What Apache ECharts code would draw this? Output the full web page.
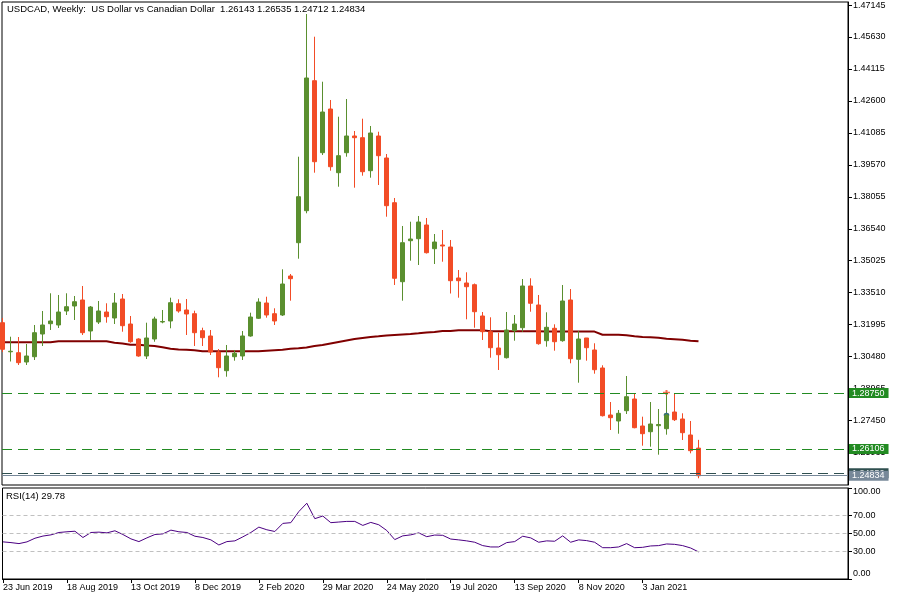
<!DOCTYPE html>
<html><head><meta charset="utf-8">
<script src="https://cdn.jsdelivr.net/npm/echarts@6/dist/echarts.min.js"></script>
<style>html,body{margin:0;padding:0;background:#fff}#c{width:900px;height:600px}</style>
</head><body><div id="c"></div><script>
// ---- DATA (weekly USDCAD, first candle = week of 23 Jun 2019) ----
const opens = [1.32088,1.30709,1.30666,1.30225,1.30476,1.31552,1.32041,1.31979,1.32643,1.32880,
1.33164,1.31695,1.32121,1.32595,1.32311,1.33211,1.32026,1.31315,1.30510,1.31315,
1.32121,1.32169,1.32989,1.32690,1.32515,1.31709,1.31458,1.30699,1.29813,1.30476,
1.30510,1.31458,1.32297,1.33022,1.32515,1.32453,1.34302,1.35880,1.37397,1.43559,
1.40146,1.42217,1.39198,1.40146,1.40938,1.40857,1.39293,1.40938,1.39895,1.37776,
1.34031,1.35975,1.36070,1.36719,1.35596,1.35771,1.35676,1.34207,1.33970,1.33889,
1.32406,1.31661,1.30889,1.30429,1.31709,1.31851,1.33828,1.32927,1.31235,1.31823,
1.31235,1.33164,1.30353,1.31363,1.30794,1.29941,1.27713,1.27429,1.27917,1.28471,
1.27192,1.26921,1.27206,1.27064,1.27855,1.27524,1.26765,1.26143];
const highs = [1.32311,1.31424,1.31410,1.31078,1.31979,1.32643,1.33482,1.33401,1.33482,1.33354,
1.33828,1.32880,1.33117,1.33008,1.33496,1.33448,1.32406,1.31349,1.32088,1.32372,
1.32690,1.33273,1.33197,1.33211,1.32657,1.31851,1.31742,1.30841,1.31031,1.30794,
1.31695,1.32562,1.33245,1.33320,1.32771,1.34619,1.34396,1.39956,1.46720,1.45644,
1.43511,1.42644,1.41852,1.42691,1.41175,1.41758,1.41412,1.41141,1.40084,1.37999,
1.36672,1.36875,1.37146,1.37051,1.36292,1.36482,1.36008,1.34586,1.34477,1.33946,
1.32595,1.32344,1.31614,1.32595,1.32453,1.34159,1.34193,1.33401,1.32581,1.32012,
1.33875,1.33685,1.31695,1.31363,1.31112,1.30069,1.28329,1.27950,1.29562,1.28742,
1.27633,1.28329,1.27997,1.28789,1.28742,1.27793,1.27429,1.26535];
const lows = [1.30699,1.30249,1.30083,1.30083,1.30320,1.30984,1.31742,1.31837,1.32453,1.32216,
1.31505,1.31268,1.32026,1.32088,1.32026,1.31661,1.31140,1.30476,1.30367,1.31187,
1.32060,1.31823,1.32562,1.31505,1.30984,1.30984,1.30557,1.29500,1.29528,1.30287,
1.30320,1.31424,1.32263,1.32325,1.31979,1.32406,1.33131,1.35122,1.37274,1.39198,
1.40037,1.39293,1.38534,1.39956,1.38487,1.39056,1.38961,1.38615,1.37112,1.33875,
1.33131,1.35027,1.34823,1.35368,1.34870,1.34979,1.33472,1.33273,1.32249,1.31851,
1.31268,1.30429,1.29846,1.30391,1.31235,1.31661,1.32609,1.31045,1.30950,1.30761,
1.31187,1.30164,1.29244,1.30287,1.29671,1.27642,1.27002,1.26827,1.27760,1.27083,
1.26258,1.26211,1.25832,1.26780,1.27429,1.26528,1.25897,1.24712];
const closes = [1.30827,1.30733,1.30192,1.30510,1.31614,1.31979,1.32169,1.32595,1.32846,1.33083,
1.31614,1.32832,1.32643,1.32372,1.33022,1.31946,1.31187,1.30510,1.31363,1.32263,
1.32145,1.33036,1.32643,1.32500,1.31614,1.31377,1.30699,1.29955,1.30510,1.30638,
1.31458,1.32358,1.33069,1.32453,1.32169,1.33922,1.34174,1.38060,1.43687,1.39719,
1.42075,1.39482,1.40004,1.40938,1.40857,1.39245,1.41080,1.40004,1.37634,1.34193,
1.35880,1.36055,1.36861,1.35406,1.35913,1.35724,1.34079,1.34079,1.33794,1.32609,
1.31661,1.30903,1.30571,1.31742,1.32026,1.33828,1.33008,1.31093,1.31870,1.31187,
1.33117,1.30382,1.31315,1.30903,1.29860,1.27680,1.27585,1.27793,1.28580,1.27111,
1.26827,1.27286,1.27263,1.27775,1.27490,1.26874,1.26021,1.24834];
const maValues = [1.31159,1.31159,1.31159,1.31159,1.31159,1.31159,1.31159,1.31206,1.31206,1.31206,
1.31206,1.31206,1.31206,1.31206,1.31140,1.31102,1.31045,1.31045,1.31007,1.30984,
1.30922,1.30856,1.30818,1.30808,1.30780,1.30732,1.30732,1.30732,1.30732,1.30732,
1.30732,1.30732,1.30732,1.30756,1.30780,1.30804,1.30851,1.30875,1.30912,1.30984,
1.31031,1.31102,1.31173,1.31244,1.31315,1.31363,1.31410,1.31443,1.31481,1.31505,
1.31529,1.31552,1.31586,1.31624,1.31647,1.31695,1.31695,1.31728,1.31728,1.31728,
1.31728,1.31680,1.31680,1.31680,1.31680,1.31680,1.31680,1.31680,1.31666,1.31666,
1.31666,1.31666,1.31666,1.31666,1.31666,1.31519,1.31519,1.31519,1.31496,1.31448,
1.31410,1.31396,1.31372,1.31325,1.31301,1.31277,1.31230,1.31206];
const rsiValues = [40.8,40.0,38.9,40.8,44.8,47.2,48.5,51.1,51.9,52.5,
45.6,51.1,51.5,50.7,53.0,48.9,44.1,41.1,45.2,48.9,
49.6,53.7,51.9,51.1,47.0,45.6,43.0,37.4,41.1,41.9,
46.3,51.1,57.0,54.1,52.2,61.1,61.9,74.1,83.3,66.3,
69.2,61.9,62.6,63.3,63.3,58.9,62.2,59.6,53.3,43.3,
47.4,48.5,50.7,46.5,48.3,48.0,43.9,43.0,41.9,40.4,
36.7,35.2,35.2,40.0,41.1,47.0,45.2,40.4,41.9,41.5,
47.4,40.4,43.0,42.2,40.4,34.4,34.4,35.2,38.9,34.4,
34.8,36.3,36.7,38.5,38.1,36.7,34.1,29.78];
const priceTicks = [1.25935,1.27450,1.28965,1.30480,1.31995,1.33510,1.35025,1.36540,1.38055,1.39570,1.41085,1.42600,1.44115,1.45630,1.47145];
const rsiTicks = [0,30,50,70,100];
const rsiLevels = [30,50,70];
const dateTickIndex = [0,8,16,24,32,40,48,56,64,72,80];
const dateTickLabels = ['23 Jun 2019','18 Aug 2019','13 Oct 2019','8 Dec 2019','2 Feb 2020','29 Mar 2020','24 May 2020','19 Jul 2020','13 Sep 2020','8 Nov 2020','3 Jan 2021'];
const levelLines = [1.28750, 1.26106];
const askLevel = 1.24950;
const bidLevel = 1.24834;
const tradeMarkIndex = [83, 83];
const tradeMarkPrice = [1.28780, 1.27775];
const titleText = 'USDCAD, Weekly:  US Dollar vs Canadian Dollar  1.26143 1.26535 1.24712 1.24834';
const rsiTitle = 'RSI(14) 29.78';

// ---- CHART ----
const FONT = '"Liberation Sans", Arial, sans-serif';
const GREEN = '#5a8f2f', RED = '#f24c26';
const chart = echarts.init(document.getElementById('c'), null, {renderer: 'canvas'});
const candles = opens.map((o, i) => [i, o, closes[i], lows[i], highs[i]]);
const maData = maValues.map((v, i) => [i, v]);
const rsiData = rsiValues.map((v, i) => [i, v]);
const xMin = -0.0625, xMax = 105.6875;
const levelLabel = (bg) => ({show: true, position: 'end', distance: 1, formatter: p => Number(p.value).toFixed(5),
  backgroundColor: bg, color: '#fff', fontFamily: FONT, fontSize: 9, lineHeight: 9, padding: [1, 4, 0, 3]});

chart.setOption({
  animation: false,
  backgroundColor: '#fff',
  textStyle: {fontFamily: FONT},
  graphic: [
    {type: 'text', left: 7, top: 4, silent: true, style: {text: titleText, fontSize: 9.5, fontFamily: FONT, fill: '#000'}},
    {type: 'text', left: 6, top: 491, silent: true, style: {text: rsiTitle, fontSize: 9.5, fontFamily: FONT, fill: '#000'}}
  ],
  grid: [
    {left: 2, top: 2, width: 846, height: 483, show: true, borderColor: '#000', borderWidth: 1, backgroundColor: 'transparent'},
    {left: 2, top: 488, width: 846, height: 91, show: true, borderColor: '#000', borderWidth: 1, backgroundColor: 'transparent'}
  ],
  xAxis: [
    {type: 'value', gridIndex: 0, min: xMin, max: xMax, show: false, splitLine: {show: false},
      axisLine: {onZero: false}},
    {type: 'value', gridIndex: 1, min: xMin, max: xMax,
      axisLine: {show: true, onZero: false, lineStyle: {color: '#000'}},
      axisTick: {show: true, customValues: dateTickIndex, length: 4, lineStyle: {color: '#000'}},
      axisLabel: {show: true, customValues: dateTickIndex, align: 'left', margin: 4, color: '#000', fontSize: 9, fontFamily: FONT,
        formatter: v => dateTickLabels[dateTickIndex.indexOf(Math.round(v))] || ''},
      splitLine: {show: false}}
  ],
  yAxis: [
    {type: 'value', gridIndex: 0, position: 'right', min: 1.24395, max: 1.47289,
      axisLine: {show: true, onZero: false, lineStyle: {color: '#000'}},
      axisTick: {show: true, customValues: priceTicks, length: 4, lineStyle: {color: '#000'}},
      axisLabel: {show: true, customValues: priceTicks, margin: 5, color: '#000', fontSize: 9, fontFamily: FONT, align: 'left',
        formatter: v => v.toFixed(5)},
      splitLine: {show: false}},
    {type: 'value', gridIndex: 1, position: 'right', min: 0, max: 100,
      axisLine: {show: true, onZero: false, lineStyle: {color: '#000'}},
      axisTick: {show: true, customValues: rsiTicks, length: 4, lineStyle: {color: '#000'}},
      axisLabel: {show: true, customValues: rsiTicks, margin: 5, color: '#000', fontSize: 9, fontFamily: FONT, align: 'left',
        formatter: v => v === 100 ? '{t|100.00}' : (v === 0 ? '{b|0.00}' : v.toFixed(2)),
        rich: {t: {padding: [7, 0, 0, 0], fontSize: 9, fontFamily: FONT, color: '#000'},
               b: {padding: [0, 0, 10, 0], fontSize: 9, fontFamily: FONT, color: '#000'}}},
      splitLine: {show: false}}
  ],
  series: [
    {type: 'line', name: 'MA', xAxisIndex: 0, yAxisIndex: 0, data: maData, symbol: 'none', z: 2,
      lineStyle: {color: '#800000', width: 2}, silent: true},
    {type: 'candlestick', name: 'USDCAD', xAxisIndex: 0, yAxisIndex: 0, data: candles, z: 3,
      encode: {x: 0, y: [1, 2, 3, 4]}, barWidth: 4,
      itemStyle: {color: GREEN, color0: RED, borderColor: GREEN, borderColor0: RED, borderColorDoji: GREEN, borderWidth: 1},
      markLine: {silent: true, symbol: ['none', 'none'], animation: false, precision: 5,
        data: [
          ...levelLines.map(v => ({yAxis: v, lineStyle: {color: '#228B22', type: [10, 6], width: 1}, label: levelLabel('#228B22')})),
          {yAxis: askLevel, lineStyle: {color: '#2F4F4F', type: [10, 6], width: 1}, label: levelLabel('#2F4F4F')},
          {yAxis: bidLevel, lineStyle: {color: '#778899', type: 'solid', width: 1}, label: levelLabel('#778899')}
        ]}},
    {type: 'scatter', xAxisIndex: 0, yAxisIndex: 0, z: 4, silent: true,
      data: [
        {value: [tradeMarkIndex[0], tradeMarkPrice[0]], symbol: 'path://M0,2H7V4H0Z M2.5,0H4.5V6H2.5Z', symbolSize: [7, 5], itemStyle: {color: RED}},
        {value: [tradeMarkIndex[1], tradeMarkPrice[1]], symbol: 'path://M0,4L3.5,0L7,4L5.5,4L3.5,2L1.5,4Z', symbolSize: [7, 3], itemStyle: {color: '#1e5aa8'}}
      ]},
    {type: 'line', name: 'RSI', xAxisIndex: 1, yAxisIndex: 1, data: rsiData, symbol: 'none', silent: true,
      lineStyle: {color: '#4b0082', width: 1},
      markLine: {silent: true, symbol: ['none', 'none'], label: {show: false},
        lineStyle: {color: '#c0c0c0', type: [4, 3], width: 1},
        data: rsiLevels.map(v => ({yAxis: v}))}}
  ]
});
</script></body></html>
